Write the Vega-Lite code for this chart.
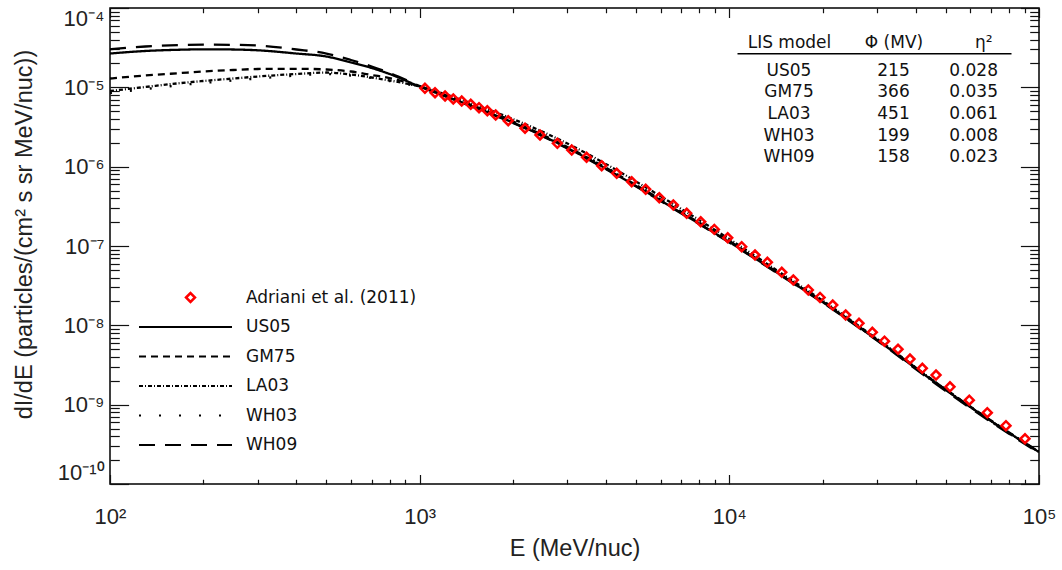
{
  "$schema": "https://vega.github.io/schema/vega-lite/v6.json",
  "width": 929,
  "height": 476,
  "autosize": {"type": "none"},
  "padding": {"left": 110, "top": 8, "right": 23, "bottom": 86},
  "background": "white",
  "config": {"view": {"stroke": "#000", "strokeWidth": 1.5}, "axis": {"grid": false}},
  "datasets": {
    "curves": [
      {"model": "US05", "E": 100, "F": 2.668e-5}, {"model": "US05", "E": 130, "F": 2.871e-5}, {"model": "US05", "E": 170, "F": 2.981e-5}, {"model": "US05", "E": 200, "F": 3.016e-5}, {"model": "US05", "E": 250, "F": 2.998e-5}, {"model": "US05", "E": 300, "F": 2.930e-5}, {"model": "US05", "E": 400, "F": 2.668e-5}, {"model": "US05", "E": 500, "F": 2.446e-5}, {"model": "US05", "E": 600, "F": 2.056e-5}, {"model": "US05", "E": 700, "F": 1.753e-5}, {"model": "US05", "E": 800, "F": 1.472e-5}, {"model": "US05", "E": 1000, "F": 1.024e-5}, {"model": "US05", "E": 1500, "F": 5.649e-6}, {"model": "US05", "E": 2000, "F": 3.602e-6}, {"model": "US05", "E": 3000, "F": 1.718e-6}, {"model": "US05", "E": 5000, "F": 5.704e-7}, {"model": "US05", "E": 7000, "F": 2.604e-7}, {"model": "US05", "E": 10000, "F": 1.123e-7}, {"model": "US05", "E": 15000, "F": 4.064e-8}, {"model": "US05", "E": 20000, "F": 1.968e-8}, {"model": "US05", "E": 30000, "F": 6.531e-9}, {"model": "US05", "E": 50000, "F": 1.530e-9}, {"model": "US05", "E": 70000, "F": 6.221e-10}, {"model": "US05", "E": 100000, "F": 2.529e-10},
      {"model": "GM75", "E": 100, "F": 1.292e-5}, {"model": "GM75", "E": 130, "F": 1.410e-5}, {"model": "GM75", "E": 170, "F": 1.516e-5}, {"model": "GM75", "E": 200, "F": 1.583e-5}, {"model": "GM75", "E": 250, "F": 1.654e-5}, {"model": "GM75", "E": 300, "F": 1.703e-5}, {"model": "GM75", "E": 400, "F": 1.713e-5}, {"model": "GM75", "E": 500, "F": 1.678e-5}, {"model": "GM75", "E": 600, "F": 1.583e-5}, {"model": "GM75", "E": 700, "F": 1.430e-5}, {"model": "GM75", "E": 800, "F": 1.311e-5}, {"model": "GM75", "E": 1000, "F": 1.024e-5}, {"model": "GM75", "E": 1500, "F": 5.815e-6}, {"model": "GM75", "E": 2000, "F": 3.708e-6}, {"model": "GM75", "E": 3000, "F": 1.769e-6}, {"model": "GM75", "E": 5000, "F": 5.872e-7}, {"model": "GM75", "E": 7000, "F": 2.681e-7}, {"model": "GM75", "E": 10000, "F": 1.156e-7}, {"model": "GM75", "E": 15000, "F": 4.124e-8}, {"model": "GM75", "E": 20000, "F": 1.997e-8}, {"model": "GM75", "E": 30000, "F": 6.627e-9}, {"model": "GM75", "E": 50000, "F": 1.552e-9}, {"model": "GM75", "E": 70000, "F": 6.312e-10}, {"model": "GM75", "E": 100000, "F": 2.566e-10},
      {"model": "LA03", "E": 100, "F": 8.989e-6}, {"model": "LA03", "E": 130, "F": 1.010e-5}, {"model": "LA03", "E": 170, "F": 1.134e-5}, {"model": "LA03", "E": 200, "F": 1.202e-5}, {"model": "LA03", "E": 250, "F": 1.292e-5}, {"model": "LA03", "E": 300, "F": 1.369e-5}, {"model": "LA03", "E": 400, "F": 1.472e-5}, {"model": "LA03", "E": 500, "F": 1.537e-5}, {"model": "LA03", "E": 600, "F": 1.451e-5}, {"model": "LA03", "E": 700, "F": 1.330e-5}, {"model": "LA03", "E": 800, "F": 1.220e-5}, {"model": "LA03", "E": 1000, "F": 1.024e-5}, {"model": "LA03", "E": 1500, "F": 6.074e-6}, {"model": "LA03", "E": 2000, "F": 3.989e-6}, {"model": "LA03", "E": 3000, "F": 1.958e-6}, {"model": "LA03", "E": 5000, "F": 6.500e-7}, {"model": "LA03", "E": 7000, "F": 2.925e-7}, {"model": "LA03", "E": 10000, "F": 1.225e-7}, {"model": "LA03", "E": 15000, "F": 4.307e-8}, {"model": "LA03", "E": 20000, "F": 2.055e-8}, {"model": "LA03", "E": 30000, "F": 6.723e-9}, {"model": "LA03", "E": 50000, "F": 1.552e-9}, {"model": "LA03", "E": 70000, "F": 6.221e-10}, {"model": "LA03", "E": 100000, "F": 2.529e-10},
      {"model": "WH03", "E": 100, "F": 8.484e-6}, {"model": "WH03", "E": 130, "F": 9.526e-6}, {"model": "WH03", "E": 170, "F": 1.070e-5}, {"model": "WH03", "E": 200, "F": 1.134e-5}, {"model": "WH03", "E": 250, "F": 1.220e-5}, {"model": "WH03", "E": 300, "F": 1.292e-5}, {"model": "WH03", "E": 400, "F": 1.410e-5}, {"model": "WH03", "E": 500, "F": 1.472e-5}, {"model": "WH03", "E": 600, "F": 1.410e-5}, {"model": "WH03", "E": 700, "F": 1.311e-5}, {"model": "WH03", "E": 800, "F": 1.202e-5}, {"model": "WH03", "E": 1000, "F": 1.010e-5}, {"model": "WH03", "E": 1500, "F": 5.815e-6}, {"model": "WH03", "E": 2000, "F": 3.763e-6}, {"model": "WH03", "E": 3000, "F": 1.795e-6}, {"model": "WH03", "E": 5000, "F": 5.958e-7}, {"model": "WH03", "E": 7000, "F": 2.681e-7}, {"model": "WH03", "E": 10000, "F": 1.139e-7}, {"model": "WH03", "E": 15000, "F": 4.064e-8}, {"model": "WH03", "E": 20000, "F": 1.968e-8}, {"model": "WH03", "E": 30000, "F": 6.531e-9}, {"model": "WH03", "E": 50000, "F": 1.508e-9}, {"model": "WH03", "E": 70000, "F": 6.131e-10}, {"model": "WH03", "E": 100000, "F": 2.492e-10},
      {"model": "WH09", "E": 100, "F": 3.016e-5}, {"model": "WH09", "E": 130, "F": 3.270e-5}, {"model": "WH09", "E": 170, "F": 3.416e-5}, {"model": "WH09", "E": 200, "F": 3.446e-5}, {"model": "WH09", "E": 250, "F": 3.436e-5}, {"model": "WH09", "E": 300, "F": 3.368e-5}, {"model": "WH09", "E": 400, "F": 2.998e-5}, {"model": "WH09", "E": 500, "F": 2.668e-5}, {"model": "WH09", "E": 600, "F": 2.211e-5}, {"model": "WH09", "E": 700, "F": 1.831e-5}, {"model": "WH09", "E": 800, "F": 1.516e-5}, {"model": "WH09", "E": 1000, "F": 1.039e-5}, {"model": "WH09", "E": 1500, "F": 5.568e-6}, {"model": "WH09", "E": 2000, "F": 3.550e-6}, {"model": "WH09", "E": 3000, "F": 1.694e-6}, {"model": "WH09", "E": 5000, "F": 5.622e-7}, {"model": "WH09", "E": 7000, "F": 2.567e-7}, {"model": "WH09", "E": 10000, "F": 1.107e-7}, {"model": "WH09", "E": 15000, "F": 4.006e-8}, {"model": "WH09", "E": 20000, "F": 1.940e-8}, {"model": "WH09", "E": 30000, "F": 6.436e-9}, {"model": "WH09", "E": 50000, "F": 1.486e-9}, {"model": "WH09", "E": 70000, "F": 6.043e-10}, {"model": "WH09", "E": 100000, "F": 2.456e-10}
    ],
    "pamela": [
      {"E": 1040, "F": 9.72e-6}, {"E": 1121, "F": 8.56e-6}, {"E": 1208, "F": 7.78e-6}, {"E": 1284, "F": 7.13e-6}, {"E": 1367, "F": 6.72e-6}, {"E": 1462, "F": 6.11e-6}, {"E": 1555, "F": 5.54e-6}, {"E": 1654, "F": 5.07e-6}, {"E": 1760, "F": 4.48e-6}, {"E": 1932, "F": 3.80e-6},
      {"E": 2189, "F": 3.05e-6}, {"E": 2447, "F": 2.51e-6}, {"E": 2784, "F": 1.97e-6}, {"E": 3098, "F": 1.62e-6}, {"E": 3459, "F": 1.31e-6}, {"E": 3871, "F": 1.03e-6}, {"E": 4328, "F": 8.25e-7}, {"E": 4838, "F": 6.46e-7}, {"E": 5369, "F": 5.18e-7}, {"E": 5941, "F": 4.06e-7},
      {"E": 6594, "F": 3.29e-7}, {"E": 7283, "F": 2.58e-7}, {"E": 8083, "F": 2.02e-7}, {"E": 8944, "F": 1.62e-7}, {"E": 9879, "F": 1.27e-7}, {"E": 10962, "F": 9.80e-8}, {"E": 12106, "F": 7.70e-8}, {"E": 13268, "F": 6.23e-8}, {"E": 14767, "F": 4.66e-8}, {"E": 16093, "F": 3.73e-8},
      {"E": 17989, "F": 2.79e-8}, {"E": 19632, "F": 2.25e-8}, {"E": 21571, "F": 1.80e-8}, {"E": 23755, "F": 1.35e-8}, {"E": 26226, "F": 1.06e-8}, {"E": 28953, "F": 8.17e-9}, {"E": 31702, "F": 6.31e-9}, {"E": 35054, "F": 5.00e-9}, {"E": 38316, "F": 3.76e-9}, {"E": 41997, "F": 2.87e-9},
      {"E": 46497, "F": 2.36e-9}, {"E": 51586, "F": 1.68e-9}, {"E": 59553, "F": 1.14e-9}, {"E": 68083, "F": 7.92e-10}, {"E": 78232, "F": 5.43e-10}, {"E": 90117, "F": 3.72e-10}
    ],
    "table": [
      {"r": "US05", "c": "LIS model", "t": "US05"}, {"r": "US05", "c": "Φ (MV)", "t": "215"}, {"r": "US05", "c": "η²", "t": "0.028"},
      {"r": "GM75", "c": "LIS model", "t": "GM75"}, {"r": "GM75", "c": "Φ (MV)", "t": "366"}, {"r": "GM75", "c": "η²", "t": "0.035"},
      {"r": "LA03", "c": "LIS model", "t": "LA03"}, {"r": "LA03", "c": "Φ (MV)", "t": "451"}, {"r": "LA03", "c": "η²", "t": "0.061"},
      {"r": "WH03", "c": "LIS model", "t": "WH03"}, {"r": "WH03", "c": "Φ (MV)", "t": "199"}, {"r": "WH03", "c": "η²", "t": "0.008"},
      {"r": "WH09", "c": "LIS model", "t": "WH09"}, {"r": "WH09", "c": "Φ (MV)", "t": "158"}, {"r": "WH09", "c": "η²", "t": "0.023"}
    ]
  },
  "resolve": {"scale": {"x": "independent", "y": "independent"}, "axis": {"x": "independent", "y": "independent"}},
  "layer": [
    {
      "data": {"name": "curves"},
      "mark": {"type": "line", "color": "#000", "strokeWidth": 2.3, "interpolate": "monotone", "clip": true},
      "encoding": {
        "x": {"field": "E", "type": "quantitative", "scale": {"type": "log", "domain": [100, 100000], "nice": false},
          "axis": {"orient": "bottom", "values": [100, 1000, 10000, 100000], "ticks": false, "domain": false, "grid": false, "labelFlush": false, "labelOverlap": false,
            "labelExpr": "'10' + ['⁰','¹','²','³','⁴','⁵'][round(log(datum.value)/LN10)]",
            "labelFont": "Liberation Sans", "labelFontSize": 22, "labelColor": "#222", "labelPadding": 22,
            "title": "E (MeV/nuc)", "titleFont": "Liberation Sans", "titleFontSize": 23.5, "titleFontWeight": "normal", "titleColor": "#222", "titlePadding": 9}},
        "y": {"field": "F", "type": "quantitative", "scale": {"type": "log", "domain": [1e-10, 1e-4], "nice": false},
          "axis": {"orient": "left", "values": [1e-10, 1e-9, 1e-8, 1e-7, 1e-6, 1e-5, 1e-4], "ticks": false, "domain": false, "grid": false, "labelFlush": true, "labelFlushOffset": 0, "labelOverlap": false,
            "labelExpr": "'10⁻' + ['⁰','¹','²','³','⁴','⁵','⁶','⁷','⁸','⁹','¹⁰'][round(-log(datum.value)/LN10)]",
            "labelFont": "Liberation Sans", "labelFontSize": 22, "labelColor": "#222", "labelPadding": 6,
            "title": "dI/dE (particles/(cm² s sr MeV/nuc))", "titleFont": "Liberation Sans", "titleFontSize": 23.5, "titleFontWeight": "normal", "titleColor": "#222", "titlePadding": 21, "titleY": 226}},
        "strokeDash": {"field": "model", "type": "nominal",
          "scale": {"domain": ["US05", "GM75", "LA03", "WH03", "WH09"], "range": [[1, 0], [7, 5], [4, 2, 1, 2], [2, 18], [16, 10]]},
          "legend": {"orient": "none", "legendX": 28, "legendY": 310.5, "title": null, "padding": 0, "symbolType": "stroke", "symbolSize": 8649, "symbolStrokeWidth": 2, "symbolStrokeColor": "#000", "labelFont": "DejaVu Sans", "labelFontSize": 17, "labelColor": "#111", "labelOffset": 13, "clipHeight": 17, "rowPadding": 11.5}}
      }
    },
    {
      "data": {"name": "pamela"},
      "mark": {"type": "point", "shape": "diamond", "filled": false, "size": 80, "strokeWidth": 2.5, "opacity": 1},
      "encoding": {
        "x": {"field": "E", "type": "quantitative", "scale": {"type": "log", "domain": [100, 100000], "nice": false},
          "axis": {"orient": "bottom", "values": [100, 1000, 10000, 100000], "labels": false, "domain": false, "grid": false, "title": null, "tickSize": -9.5, "tickWidth": 1.2, "tickColor": "#111"}},
        "y": {"field": "F", "type": "quantitative", "scale": {"type": "log", "domain": [1e-10, 1e-4], "nice": false},
          "axis": {"orient": "left", "values": [1e-10, 1e-9, 1e-8, 1e-7, 1e-6, 1e-5, 1e-4], "labels": false, "domain": false, "grid": false, "title": null, "tickSize": -18.6, "tickWidth": 1.2, "tickColor": "#111"}},
        "color": {"datum": "Adriani et al. (2011)", "type": "nominal", "scale": {"range": ["#ff0000"]},
          "legend": {"orient": "none", "legendX": 72, "legendY": 281, "title": null, "padding": 0, "symbolType": "diamond", "symbolSize": 80, "symbolStrokeWidth": 2.5, "symbolFillColor": "transparent", "labelFont": "DejaVu Sans", "labelFontSize": 17, "labelColor": "#111", "labelOffset": 47, "labelLimit": 400}}
      }
    },
    {
      "data": {"name": "pamela"},
      "mark": {"type": "point", "opacity": 0},
      "encoding": {
        "x": {"field": "E", "type": "quantitative", "scale": {"type": "log", "domain": [100, 100000], "nice": false},
          "axis": {"orient": "bottom", "values": [200, 300, 400, 500, 600, 700, 800, 900, 2000, 3000, 4000, 5000, 6000, 7000, 8000, 9000, 20000, 30000, 40000, 50000, 60000, 70000, 80000, 90000], "labels": false, "domain": false, "grid": false, "title": null, "tickSize": -4.75, "tickWidth": 1.2, "tickColor": "#111"}},
        "y": {"field": "F", "type": "quantitative", "scale": {"type": "log", "domain": [1e-10, 1e-4], "nice": false},
          "axis": {"orient": "left", "values": [2e-10, 3e-10, 4e-10, 5e-10, 6e-10, 7e-10, 8e-10, 9e-10, 2e-9, 3e-9, 4e-9, 5e-9, 6e-9, 7e-9, 8e-9, 9e-9, 2e-8, 3e-8, 4e-8, 5e-8, 6e-8, 7e-8, 8e-8, 9e-8, 2e-7, 3e-7, 4e-7, 5e-7, 6e-7, 7e-7, 8e-7, 9e-7, 2e-6, 3e-6, 4e-6, 5e-6, 6e-6, 7e-6, 8e-6, 9e-6, 2e-5, 3e-5, 4e-5, 5e-5, 6e-5, 7e-5, 8e-5, 9e-5], "labels": false, "domain": false, "grid": false, "title": null, "tickSize": -9.3, "tickWidth": 1.2, "tickColor": "#111"}}
      }
    },
    {
      "data": {"name": "pamela"},
      "mark": {"type": "point", "opacity": 0},
      "encoding": {
        "x": {"field": "E", "type": "quantitative", "scale": {"type": "log", "domain": [100, 100000], "nice": false},
          "axis": {"orient": "top", "values": [100, 1000, 10000, 100000], "labels": false, "domain": false, "grid": false, "title": null, "tickSize": -9.5, "tickWidth": 1.2, "tickColor": "#111"}},
        "y": {"field": "F", "type": "quantitative", "scale": {"type": "log", "domain": [1e-10, 1e-4], "nice": false},
          "axis": {"orient": "right", "values": [1e-10, 1e-9, 1e-8, 1e-7, 1e-6, 1e-5, 1e-4], "labels": false, "domain": false, "grid": false, "title": null, "tickSize": -18.6, "tickWidth": 1.2, "tickColor": "#111"}}
      }
    },
    {
      "data": {"name": "pamela"},
      "mark": {"type": "point", "opacity": 0},
      "encoding": {
        "x": {"field": "E", "type": "quantitative", "scale": {"type": "log", "domain": [100, 100000], "nice": false},
          "axis": {"orient": "top", "values": [200, 300, 400, 500, 600, 700, 800, 900, 2000, 3000, 4000, 5000, 6000, 7000, 8000, 9000, 20000, 30000, 40000, 50000, 60000, 70000, 80000, 90000], "labels": false, "domain": false, "grid": false, "title": null, "tickSize": -4.75, "tickWidth": 1.2, "tickColor": "#111"}},
        "y": {"field": "F", "type": "quantitative", "scale": {"type": "log", "domain": [1e-10, 1e-4], "nice": false},
          "axis": {"orient": "right", "values": [2e-10, 3e-10, 4e-10, 5e-10, 6e-10, 7e-10, 8e-10, 9e-10, 2e-9, 3e-9, 4e-9, 5e-9, 6e-9, 7e-9, 8e-9, 9e-9, 2e-8, 3e-8, 4e-8, 5e-8, 6e-8, 7e-8, 8e-8, 9e-8, 2e-7, 3e-7, 4e-7, 5e-7, 6e-7, 7e-7, 8e-7, 9e-7, 2e-6, 3e-6, 4e-6, 5e-6, 6e-6, 7e-6, 8e-6, 9e-6, 2e-5, 3e-5, 4e-5, 5e-5, 6e-5, 7e-5, 8e-5, 9e-5], "labels": false, "domain": false, "grid": false, "title": null, "tickSize": -9.3, "tickWidth": 1.2, "tickColor": "#111"}}
      }
    },
    {
      "data": {"name": "table"},
      "transform": [{"filter": "datum.c !== 'η²'"}],
      "mark": {"type": "text", "align": "center", "baseline": "middle", "font": "DejaVu Sans", "fontSize": 17, "color": "#111"},
      "encoding": {
        "x": {"field": "c", "type": "nominal", "scale": {"type": "point", "domain": ["LIS model", "Φ (MV)", "η²"], "range": [627, 901], "padding": 0.311, "align": 0.8},
          "axis": {"orient": "top", "offset": -45.3, "domain": true, "domainColor": "#000", "domainWidth": 1.5, "ticks": false, "grid": false, "title": null, "labelAngle": 0,
            "labelFont": "DejaVu Sans", "labelFontSize": 17, "labelColor": "#111", "labelPadding": 5.5, "labelBaseline": "alphabetic",
            "labelAlign": {"condition": {"test": "datum.value === 'η²'", "value": "right"}, "value": "center"},
            "labelOffset": {"condition": {"test": "datum.value === 'η²'", "value": -6}, "value": 0}}},
        "y": {"field": "r", "type": "nominal", "scale": {"type": "point", "domain": ["US05", "GM75", "LA03", "WH03", "WH09"], "range": [62.7, 149.3], "padding": 0}, "axis": null},
        "text": {"field": "t"}
      }
    },
    {
      "data": {"name": "table"},
      "transform": [{"filter": "datum.c === 'η²'"}],
      "mark": {"type": "text", "align": "right", "baseline": "middle", "font": "DejaVu Sans", "fontSize": 17, "color": "#111"},
      "encoding": {
        "x": {"field": "c", "type": "nominal", "scale": {"type": "point", "domain": ["LIS model", "Φ (MV)", "η²"], "range": [627, 901], "padding": 0.311, "align": 0.8}, "axis": null},
        "y": {"field": "r", "type": "nominal", "scale": {"type": "point", "domain": ["US05", "GM75", "LA03", "WH03", "WH09"], "range": [62.7, 149.3], "padding": 0}, "axis": null},
        "text": {"field": "t"}
      }
    }
  ]
}
